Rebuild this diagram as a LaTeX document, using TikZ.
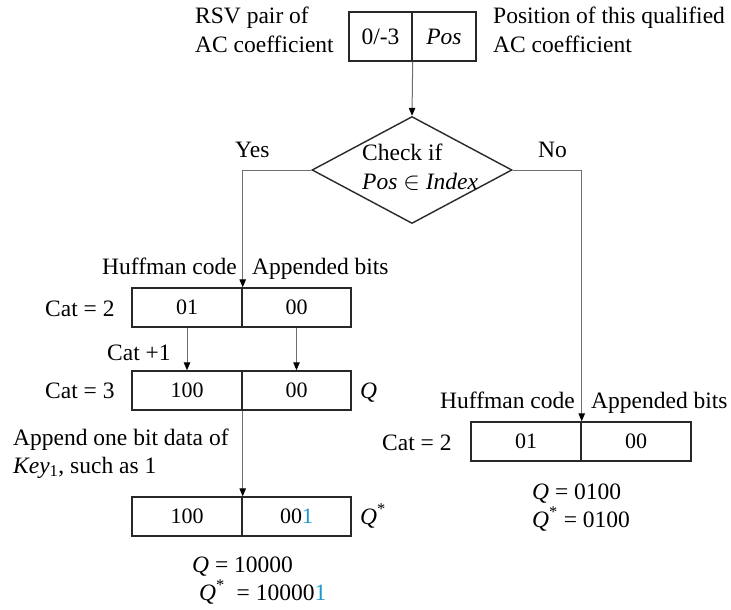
\documentclass[tikz,border=0pt]{standalone}
\usepackage{fontspec}
\setmainfont{Liberation Serif}
\usetikzlibrary{shapes.geometric,arrows.meta}
\definecolor{bitblue}{RGB}{30,150,205}
\definecolor{boxline}{RGB}{40,40,40}
\definecolor{conline}{RGB}{110,110,110}
\tikzset{
  txt/.style={font=\fontsize{23.5}{28}\selectfont, inner sep=0pt, anchor=base west},
  txtr/.style={txt, anchor=base east},
  cell/.style={draw=boxline, line width=1.4pt, minimum height=39pt, inner sep=0pt, font=\fontsize{22}{26}\selectfont},
  topcell/.style={cell, minimum height=49pt, font=\fontsize{23.5}{28}\selectfont},
  conn/.style={draw=conline, line width=1pt, -{Triangle[length=8pt,width=6.5pt,color=black]}},
  dia/.style={draw=boxline, line width=1.4pt, diamond, minimum width=200pt, minimum height=107pt, inner sep=0pt},
}
\begin{document}
\begin{tikzpicture}[x=1pt,y=-1pt]
\useasboundingbox (0,0) rectangle (731,610);

% top box
\node[topcell, minimum width=63pt] (tA) at (380.5,36.5) {0/-3};
\node[topcell, minimum width=64pt] (tB) at (444,36.5) {\textit{Pos}};
\node[txt] (rsv1) at (195,24) {RSV pair of};
\node[txt] (rsv2) at (195,53) {AC coefficient};
\node[txt] (pos1) at (493,24) {Position of this qualified};
\node[txt] (pos2) at (493,53) {AC coefficient};

% decision
\node[dia] (d) at (412,170) {};
\node[txt] (chk1) at (362,160) {Check if};
\node[txt] (chk2) at (362,189) {\textit{Pos} $\in$ \textit{Index}};
\node[txt] (yes) at (235,157) {Yes};
\node[txt] (no) at (538,157) {No};

% left branch boxes
\node[txtr] (hl) at (237,274) {Huffman code};
\node[txt] (al) at (252,274) {Appended bits};
\node[cell, minimum width=110pt] (l1A) at (187,307.5) {01};
\node[cell, minimum width=109pt] (l1B) at (296.5,307.5) {00};
\node[txt] (c2l) at (45,316) {Cat = 2};
\node[txt] (cp1) at (107,360) {Cat +1};
\node[cell, minimum width=110pt] (l2A) at (187,390.5) {100};
\node[cell, minimum width=109pt] (l2B) at (296.5,390.5) {00};
\node[txt] (c3l) at (45,398) {Cat = 3};
\node[txt] (ql) at (360,398) {\textit{Q}};
\node[txt] (ap1) at (13,445) {Append one bit data of};
\node[txt] (ap2) at (13,473) {\textit{Key}\textsubscript{1}, such as 1};
\node[cell, minimum width=110pt] (l3A) at (187,516.5) {100};
\node[cell, minimum width=109pt] (l3B) at (296.5,516.5) {00\textcolor{bitblue}{1}};
\node[txt] (qsl) at (360,524) {\textit{Q}\textsuperscript{*}};
\node[txt] (qv1) at (192,572) {\textit{Q} = 10000};
\node[txt] (qv2) at (199,600) {\textit{Q}\textsuperscript{*}\ \ = 10000\textcolor{bitblue}{1}};

% right branch
\node[txtr] (hr) at (575,408) {Huffman code};
\node[txt] (ar) at (591,408) {Appended bits};
\node[cell, minimum width=110pt] (rA) at (526,441.5) {01};
\node[cell, minimum width=110pt] (rB) at (636,441.5) {00};
\node[txt] (c2r) at (382,450) {Cat = 2};
\node[txt] (qr1) at (532,499) {\textit{Q} = 0100};
\node[txt] (qr2) at (532,527) {\textit{Q}\textsuperscript{*} = 0100};

% connectors
\draw[conn] (tA.south east) -- (d.north);
\draw[conn] (d.west) -| (l1A.north east);
\draw[conn] (d.east) -| (rA.north east);
\draw[conn] (l1A.south) -- (l2A.north);
\draw[conn] (l1B.south) -- (l2B.north);
\draw[conn] (l2A.south east) -- (l3A.north east);
\end{tikzpicture}
\end{document}
